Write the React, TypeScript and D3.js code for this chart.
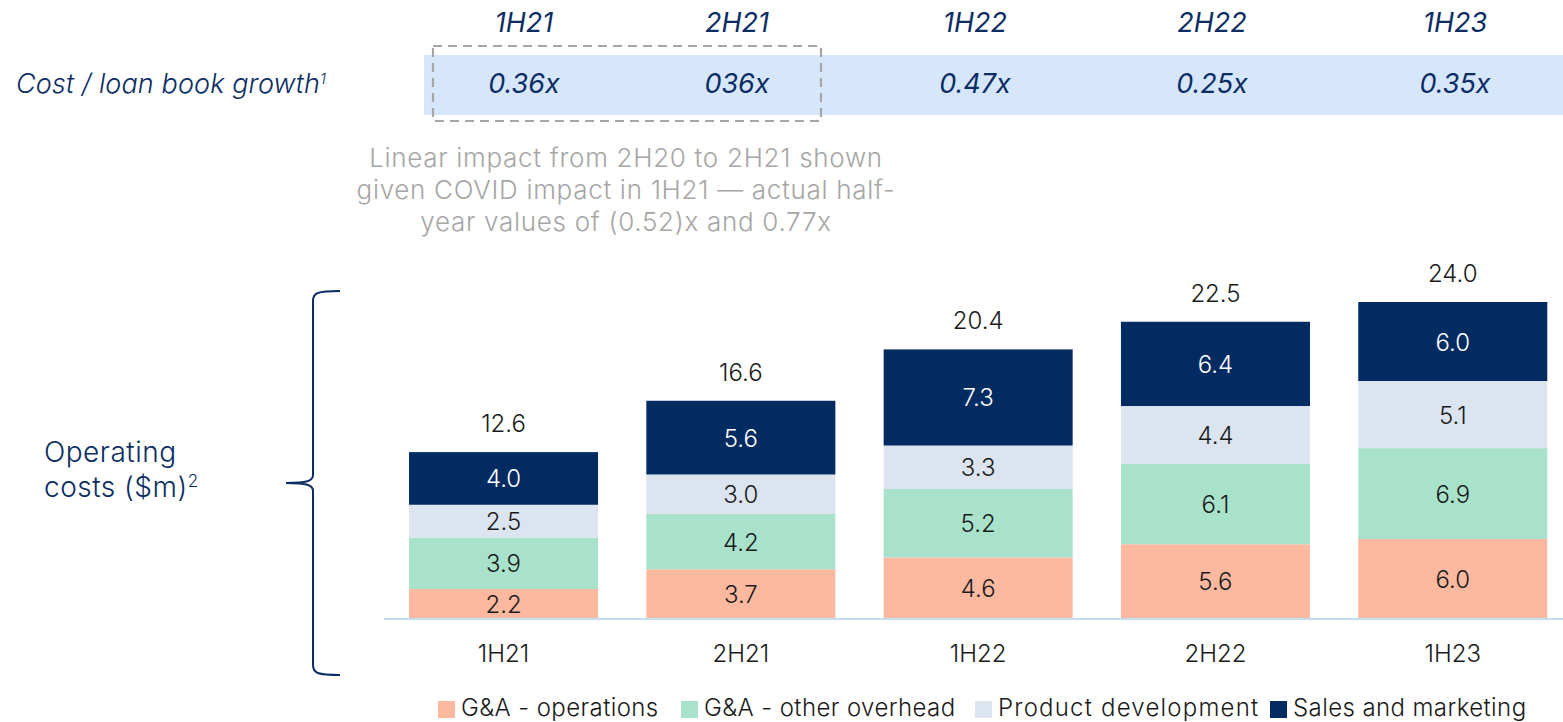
import React from "react";
import * as d3 from "d3";

const categories = ["1H21", "2H21", "1H22", "2H22", "1H23"];
const growthLabels = ["0.36x", "036x", "0.47x", "0.25x", "0.35x"];
const gaOperations = [2.2, 3.7, 4.6, 5.6, 6.0];
const gaOverhead = [3.9, 4.2, 5.2, 6.1, 6.9];
const productDev = [2.5, 3.0, 3.3, 4.4, 5.1];
const salesMarketing = [4.0, 5.6, 7.3, 6.4, 6.0];
const totals = [12.6, 16.6, 20.4, 22.5, 24.0];
const seriesNames = ["G&A - operations", "G&A - other overhead", "Product development", "Sales and marketing"];
const noteLines = [
  "Linear impact from 2H20 to 2H21 shown",
  "given COVID impact in 1H21 \u2014 actual half-",
  "year values of (0.52)x and 0.77x",
];

const W = 1563;
const H = 722;
const NAVY = "#0B2D63";
const COLORS = ["#FDB9A0", "#A8E2CB", "#DBE4EF", "#022B62"];
const TEXT_COLORS = ["#1a1a1a", "#1a1a1a", "#1a1a1a", "#ffffff"];
const FONT = "Inter, 'Liberation Sans', Arial, sans-serif";
const HEADER_X = [524, 737, 975, 1212, 1455];
const LEGEND_X = [438, 681, 975, 1270];
const LEGEND_SPACING = [0.4, 0.4, 1.2, 0.4];

export default function App() {
  const baseY = 618;
  const x = d3.scaleBand<string>().domain(categories).range([385.3, 1571]).paddingInner(0.2035).paddingOuter(0.1);
  const y = d3.scaleLinear().domain([0, 24]).range([baseY, baseY - 316]);

  const rows = categories.map((c, i) => ({
    cat: c,
    s0: gaOperations[i],
    s1: gaOverhead[i],
    s2: productDev[i],
    s3: salesMarketing[i],
  }));
  const stack = d3.stack<any>().keys(["s0", "s1", "s2", "s3"])(rows);

  const bx = 313, top = 291, bot = 675, mid = 483, tipX = 286, right = 340;
  const brace = `M${right},${top} C${bx + 4},${top} ${bx},${top + 2} ${bx},${top + 10} L${bx},${mid - 8} C${bx},${mid - 2} ${bx - 6},${mid} ${tipX},${mid} C${bx - 6},${mid} ${bx},${mid + 2} ${bx},${mid + 8} L${bx},${bot - 10} C${bx},${bot - 2} ${bx + 4},${bot} ${right},${bot}`;

  return (
    <svg width={W} height={H} style={{ position: "absolute", left: 0, top: 0 }} fontFamily={FONT}>
      <rect x={424} y={55} width={W - 424} height={60} fill="#D6E6FB" />
      <rect x={433} y={46} width={388} height={75} fill="none" stroke="#A6A6A6" strokeWidth={2.2} strokeDasharray="9,6" />
      <text x={16} y={93} fontSize={27} fontStyle="italic" fontWeight={300} fill={NAVY} letterSpacing={0.1}>
        Cost / loan book growth<tspan fontSize={15} dy={-9}>1</tspan>
      </text>
      {categories.map((c, i) => (
        <g key={c}>
          <text x={HEADER_X[i]} y={32} textAnchor="middle" fontSize={27} fontStyle="italic" fill={NAVY} letterSpacing={0}>{c}</text>
          <text x={HEADER_X[i]} y={93} textAnchor="middle" fontSize={27} fontStyle="italic" fill={NAVY} letterSpacing={0}>{growthLabels[i]}</text>
        </g>
      ))}
      {noteLines.map((l, i) => (
        <text key={i} x={626} y={167 + i * 32} textAnchor="middle" fontSize={26} fontWeight={300} fill="#A6A6A6" letterSpacing={0.7}>{l}</text>
      ))}

      <text x={44} y={462} fontSize={28} fontWeight={300} fill={NAVY} letterSpacing={0.5}>Operating</text>
      <text x={44} y={497} fontSize={28} fontWeight={300} fill={NAVY} letterSpacing={0.5}>
        costs ($m)<tspan fontSize={17} dy={-10}>2</tspan>
      </text>
      <path d={brace} fill="none" stroke={NAVY} strokeWidth={2} />

      {stack.map((layer, li) => (
        <g key={li}>
          {layer.map((d: any, i: number) => {
            const x0 = x(categories[i])!;
            const yTop = y(d[1]);
            const yBot = y(d[0]);
            const v = d[1] - d[0];
            return (
              <g key={i}>
                <rect x={x0} y={yTop} width={x.bandwidth()} height={yBot - yTop} fill={COLORS[li]} />
                <text x={x0 + x.bandwidth() / 2} y={(yTop + yBot) / 2 + 9} textAnchor="middle" fontSize={24} fontWeight={300} fill={TEXT_COLORS[li]} letterSpacing={0}>
                  {v.toFixed(1)}
                </text>
              </g>
            );
          })}
        </g>
      ))}
      {categories.map((c, i) => {
        const top = y(d3.sum([gaOperations[i], gaOverhead[i], productDev[i], salesMarketing[i]]));
        return (
          <g key={c}>
            <text x={x(c)! + x.bandwidth() / 2} y={top - 20} textAnchor="middle" fontSize={24} fontWeight={300} fill="#1a1a1a" letterSpacing={0}>
              {totals[i].toFixed(1)}
            </text>
            <text x={x(c)! + x.bandwidth() / 2} y={662} textAnchor="middle" fontSize={24} fontWeight={300} fill="#1a1a1a" letterSpacing={0}>
              {c}
            </text>
          </g>
        );
      })}
      <line x1={384} x2={W} y1={baseY + 1} y2={baseY + 1} stroke="#C5DCF5" strokeWidth={2} />

      {seriesNames.map((name, i) => (
        <g key={name}>
          <rect x={LEGEND_X[i]} y={701} width={17} height={17} fill={COLORS[i]} />
          <text x={LEGEND_X[i] + 23} y={716} fontSize={24} fontWeight={300} fill="#1a1a1a" letterSpacing={LEGEND_SPACING[i]}>{name}</text>
        </g>
      ))}
    </svg>
  );
}
